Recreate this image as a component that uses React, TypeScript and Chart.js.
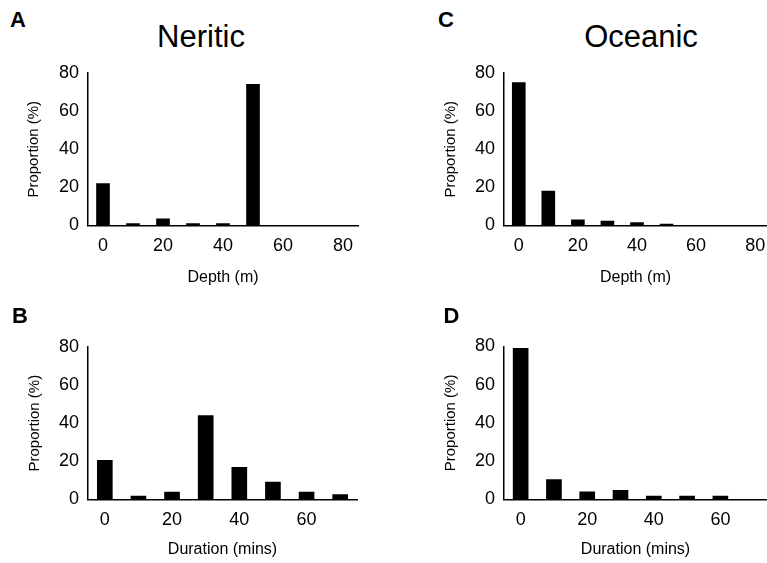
import React, { useEffect, useRef } from "react";
import { Chart, registerables } from "chart.js";

Chart.register(...registerables);

// ---- data ----
const depthBins = [0, 10, 20, 30, 40, 50];
const neriticDepth = [22, 1, 3.5, 1, 1, 74];
const oceanicDepth = [75, 18, 3, 2.3, 1.5, 0.8];

const neriticDurationBins = [0, 10, 20, 30, 40, 50, 60, 70];
const neriticDuration = [20.5, 1.7, 3.8, 44, 16.8, 9, 3.8, 2.5];
const oceanicDurationBins = [0, 10, 20, 30, 40, 50, 60];
const oceanicDuration = [79, 10.3, 3.9, 4.7, 1.7, 1.7, 1.7];

const depthTicks = [0, 20, 40, 60, 80];
const durationTicks = [0, 20, 40, 60];
const yTicks = [0, 20, 40, 60, 80];

const FONT = '"Liberation Sans", Arial, Helvetica, sans-serif';

type PanelProps = {
  left: number;
  top: number;
  width: number;
  height: number;
  padTop: number;
  padRight: number;
  yWidth: number;
  xHeight: number;
  xMin: number;
  xMax: number;
  xTicks: number[];
  bins: number[];
  values: number[];
  barWidth: number;
  xTitle: string;
  yTitlePad: number;
  xTitlePad: number;
};

function Panel(p: PanelProps) {
  const ref = useRef<HTMLCanvasElement | null>(null);
  useEffect(() => {
    if (!ref.current) return;
    const data = p.bins.map((b, i) => ({ x: b, y: p.values[i] }));
    const chart = new Chart(ref.current, {
      type: "bar",
      data: {
        datasets: [
          {
            data: data as any,
            backgroundColor: "#000",
            borderWidth: 0,
            barThickness: p.barWidth,
          },
        ],
      },
      options: {
        animation: false,
        responsive: false,
        maintainAspectRatio: false,
        layout: {
          padding: { left: 0, top: p.padTop, right: p.padRight, bottom: 0 },
        },
        plugins: {
          legend: { display: false },
          tooltip: { enabled: false },
        },
        scales: {
          x: {
            type: "linear",
            min: p.xMin,
            max: p.xMax,
            offset: false,
            grid: {
              display: true,
              offset: false,
              drawOnChartArea: false,
              drawTicks: true,
              tickLength: 10,
              color: "rgba(0,0,0,0)",
            },
            border: { display: true, color: "#000", width: 1.5 },
            ticks: {
              padding: 0,
              maxRotation: 0,
              autoSkip: false,
              color: "#000",
              font: { family: FONT, size: 18 },
              callback: (v: any) => String(v),
            },
            afterBuildTicks: (s: any) => {
              s.ticks = p.xTicks.map((v) => ({ value: v }));
            },
            title: {
              display: true,
              text: p.xTitle,
              color: "#000",
              font: { family: FONT, size: 16 },
              padding: { top: 0, bottom: p.xTitlePad },
            },
            afterFit: (s: any) => {
              s.height = p.xHeight;
            },
          } as any,
          y: {
            type: "linear",
            min: yTicks[0],
            max: yTicks[yTicks.length - 1],
            grid: {
              display: true,
              drawOnChartArea: false,
              drawTicks: true,
              tickLength: 9,
              color: "rgba(0,0,0,0)",
            },
            border: { display: true, color: "#000", width: 1.5 },
            ticks: {
              padding: 0,
              color: "#000",
              font: { family: FONT, size: 18 },
              callback: (v: any) => String(v),
            },
            afterBuildTicks: (s: any) => {
              s.ticks = yTicks.map((v) => ({ value: v }));
            },
            title: {
              display: true,
              text: "Proportion (%)",
              color: "#000",
              font: { family: FONT, size: 15 },
              padding: { top: p.yTitlePad, bottom: 0 },
            },
            afterFit: (s: any) => {
              s.width = p.yWidth;
            },
          } as any,
        },
      },
    });
    return () => chart.destroy();
  }, []);
  return (
    <canvas
      ref={ref}
      width={p.width}
      height={p.height}
      style={{
        position: "absolute",
        left: p.left,
        top: p.top,
        width: p.width,
        height: p.height,
      }}
    />
  );
}

const labelStyle = (left: number, top: number, size: number, bold: boolean): React.CSSProperties => ({
  position: "absolute",
  left,
  top,
  fontFamily: FONT,
  fontSize: size,
  lineHeight: `${size}px`,
  fontWeight: bold ? 700 : 400,
  color: "#000",
  whiteSpace: "nowrap",
});

export default function App() {
  useEffect(() => {
    document.body.style.margin = "0";
  }, []);
  return (
    <div
      style={{
        position: "absolute",
        left: 0,
        top: 0,
        width: 767,
        height: 563,
        background: "#fff",
        overflow: "hidden",
      }}
    >
      <Panel
        left={0}
        top={60}
        width={383}
        height={230}
        padTop={13}
        padRight={25}
        yWidth={88}
        xHeight={64.5}
        xMin={-5}
        xMax={85}
        xTicks={depthTicks}
        bins={depthBins}
        values={neriticDepth}
        barWidth={13}
        xTitle="Depth (m)"
        yTitlePad={24.5}
        xTitlePad={2.4}
      />
      <Panel
        left={383}
        top={60}
        width={384}
        height={230}
        padTop={13}
        padRight={0}
        yWidth={121}
        xHeight={64.5}
        xMin={-5}
        xMax={84}
        xTicks={depthTicks}
        bins={depthBins}
        values={oceanicDepth}
        barWidth={13}
        xTitle="Depth (m)"
        yTitlePad={58.5}
        xTitlePad={2.4}
      />
      <Panel
        left={0}
        top={290}
        width={383}
        height={273}
        padTop={57}
        padRight={26}
        yWidth={88}
        xHeight={63.7}
        xMin={-5}
        xMax={75}
        xTicks={durationTicks}
        bins={neriticDurationBins}
        values={neriticDuration}
        barWidth={15}
        xTitle="Duration (mins)"
        yTitlePad={25.5}
        xTitlePad={3.4}
      />
      <Panel
        left={383}
        top={290}
        width={384}
        height={273}
        padTop={56.5}
        padRight={0}
        yWidth={121}
        xHeight={63.7}
        xMin={-5}
        xMax={74}
        xTicks={durationTicks}
        bins={oceanicDurationBins}
        values={oceanicDuration}
        barWidth={15}
        xTitle="Duration (mins)"
        yTitlePad={58.5}
        xTitlePad={3.4}
      />
      <div style={labelStyle(10, 9.4, 22, true)}>A</div>
      <div style={labelStyle(438, 9.4, 22, true)}>C</div>
      <div style={labelStyle(12, 305.4, 22, true)}>B</div>
      <div style={labelStyle(443.5, 305.4, 22, true)}>D</div>
      <div style={{ ...labelStyle(0, 21.3, 31, false), width: 402, textAlign: "center" }}>Neritic</div>
      <div style={{ ...labelStyle(541, 21.3, 31, false), width: 200, textAlign: "center" }}>Oceanic</div>
    </div>
  );
}
